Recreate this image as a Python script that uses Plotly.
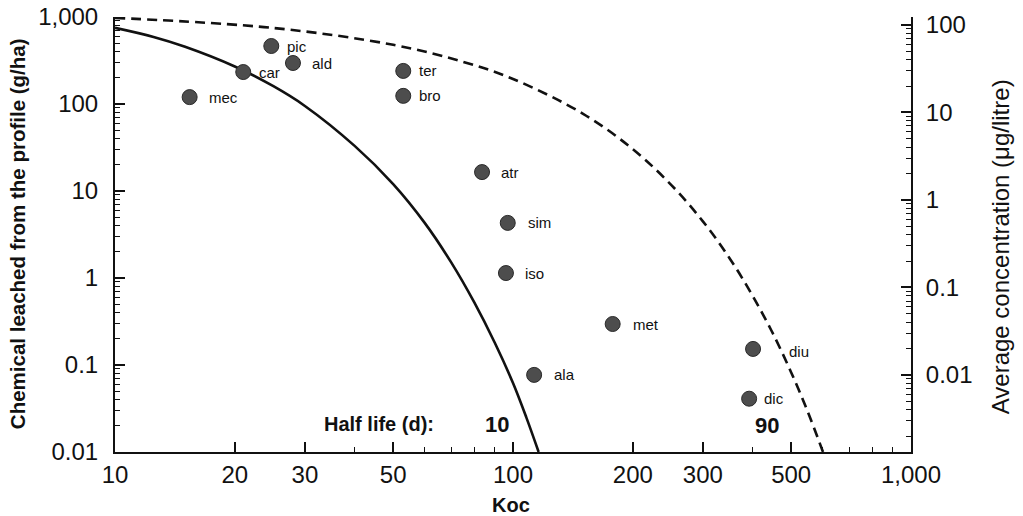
import math
import plotly.graph_objects as go

# Herbicides: Koc and amount leached from the profile (g/ha)
names = ["mec", "car", "pic", "ald", "ter", "bro", "atr", "sim", "iso", "met", "ala", "diu", "dic"]
koc = [15.4, 21.0, 24.7, 28.0, 53.0, 53.0, 83.6, 97.0, 96.0, 178.0, 113.0, 401.0, 392.0]
leached = [120, 233, 464, 296, 240, 124, 16.5, 4.3, 1.14, 0.296, 0.077, 0.153, 0.041]

# Model curves for half life 10 d (solid) and 90 d (dashed)
hl10_koc = [10, 12.5, 15, 20, 25, 30, 40, 50, 60, 70, 80, 90, 100, 108, 116]
hl10_leach = [750, 590, 455, 270, 160, 95, 33, 12, 4.3, 1.5, 0.52, 0.18, 0.062, 0.025, 0.01]
hl90_koc = [10, 25, 50, 75, 100, 150, 200, 250, 300, 350, 400, 450, 500, 550, 601]
hl90_leach = [977, 748, 479, 305, 194, 77.1, 30.3, 11.7, 4.48, 1.69, 0.625, 0.229, 0.0822, 0.0292, 0.01]

# Axis ticks
x_major = [10, 20, 30, 50, 100, 200, 300, 500, 1000]
x_major_text = ["10", "20", "30", "50", "100", "200", "300", "500", "1,000"]
x_minor = [40, 60, 70, 80, 90, 400, 600, 700, 800, 900]
y_major = [0.01, 0.1, 1, 10, 100, 1000]
y_major_text = ["0.01", "0.1", "1", "10", "100", "1,000"]
y2_major = [0.01, 0.1, 1, 10, 100]
y2_major_text = ["0.01", "0.1", "1", "10", "100"]

label_shift = {"mec": 17, "car": 14, "pic": 14, "ald": 17, "ter": 14, "bro": 14, "atr": 17,
               "sim": 18, "iso": 17, "met": 18, "ala": 18, "diu": 34, "dic": 13}

FONT = "Liberation Sans, Arial, sans-serif"
INK = "#111111"


def decade_minors(lo_exp, hi_exp):
    vals = []
    for e in range(lo_exp, hi_exp):
        for m in range(2, 10):
            vals.append(round(m * 10 ** e, 6))
    return vals


fig = go.Figure()

fig.add_trace(go.Scatter(
    x=hl10_koc, y=hl10_leach, mode="lines",
    line=dict(color=INK, width=2.6, shape="spline", smoothing=1.0),
    hoverinfo="skip", showlegend=False,
))
fig.add_trace(go.Scatter(
    x=hl90_koc, y=hl90_leach, mode="lines",
    line=dict(color=INK, width=2.6, dash="10px,6px", shape="spline", smoothing=1.0),
    hoverinfo="skip", showlegend=False,
))
fig.add_trace(go.Scatter(
    x=koc, y=leached, mode="markers",
    marker=dict(size=15, color="#4d4d4d", line=dict(color="#2a2a2a", width=1)),
    text=names, hoverinfo="text", showlegend=False,
))
# invisible trace to activate the right-hand axis
fig.add_trace(go.Scatter(
    x=[100], y=[1], yaxis="y2", mode="markers", marker=dict(opacity=0),
    hoverinfo="skip", showlegend=False,
))

annotations = []
for n, kx, ly in zip(names, koc, leached):
    # annotation positions on log axes are given in log10 units
    annotations.append(dict(
        x=math.log10(kx), y=math.log10(ly), xref="x", yref="y", text=n, showarrow=False,
        xanchor="left", yanchor="middle", xshift=label_shift[n],
        yshift=-3 if n == "diu" else 0,
        font=dict(family=FONT, size=15, color=INK),
    ))

annotations += [
    dict(x=0.26, y=0.064, xref="paper", yref="paper", text="<b>Half life (d):</b>",
         showarrow=False, xanchor="left", yanchor="middle",
         font=dict(family=FONT, size=20, color=INK)),
    dict(x=0.48, y=0.064, xref="paper", yref="paper", text="<b>10</b>",
         showarrow=False, xanchor="center", yanchor="middle",
         font=dict(family=FONT, size=22, color=INK)),
    dict(x=0.819, y=0.06, xref="paper", yref="paper", text="<b>90</b>",
         showarrow=False, xanchor="center", yanchor="middle",
         font=dict(family=FONT, size=22, color=INK)),
    dict(x=0.4975, y=-0.122, xref="paper", yref="paper", text="<b>Koc</b>",
         showarrow=False, xanchor="center", yanchor="middle",
         font=dict(family=FONT, size=20, color=INK)),
    dict(x=-0.123, y=0.501, xref="paper", yref="paper",
         text="<b>Chemical leached from the profile (g/ha)</b>", textangle=-90,
         showarrow=False, xanchor="center", yanchor="middle",
         font=dict(family=FONT, size=20.5, color=INK)),
    dict(x=1.112, y=0.471, xref="paper", yref="paper",
         text="Average concentration (\u03bcg/litre)", textangle=-90,
         showarrow=False, xanchor="center", yanchor="middle",
         font=dict(family=FONT, size=24, color=INK)),
]

fig.update_layout(
    width=1023, height=516,
    margin=dict(l=115, r=112, t=17, b=64, autoexpand=False),
    paper_bgcolor="white", plot_bgcolor="white",
    font=dict(family=FONT, color=INK),
    annotations=annotations,
    xaxis=dict(
        type="log", range=[1, 3], showgrid=False, zeroline=False, automargin=False,
        showline=True, linecolor=INK, linewidth=2,
        tickmode="array", tickvals=x_major, ticktext=x_major_text,
        ticks="inside", ticklen=10, tickwidth=1.5, tickcolor=INK,
        tickfont=dict(family=FONT, size=24, color=INK),
        minor=dict(tickmode="array", tickvals=x_minor, ticks="inside",
                   ticklen=5, tickwidth=1.2, tickcolor=INK, showgrid=False),
    ),
    yaxis=dict(
        type="log", range=[-2, 3], showgrid=False, zeroline=False, automargin=False,
        showline=True, linecolor=INK, linewidth=2,
        tickmode="array", tickvals=y_major, ticktext=y_major_text,
        ticks="inside", ticklen=10, tickwidth=1.5, tickcolor=INK,
        tickfont=dict(family=FONT, size=24, color=INK), ticklabelstandoff=10,
        minor=dict(tickmode="array", tickvals=decade_minors(-2, 3), ticks="inside",
                   ticklen=5, tickwidth=1.2, tickcolor=INK, showgrid=False),
    ),
    yaxis2=dict(
        type="log", range=[-2.88, 2.09], overlaying="y", side="right",
        showgrid=False, zeroline=False, automargin=False,
        showline=True, linecolor=INK, linewidth=2,
        tickmode="array", tickvals=y2_major, ticktext=y2_major_text,
        ticks="inside", ticklen=10, tickwidth=1.5, tickcolor=INK,
        tickfont=dict(family=FONT, size=24, color=INK), ticklabelstandoff=8,
        minor=dict(tickmode="array", tickvals=decade_minors(-3, 3), ticks="inside",
                   ticklen=5, tickwidth=1.2, tickcolor=INK, showgrid=False),
    ),
)

fig.write_html("out.html")
